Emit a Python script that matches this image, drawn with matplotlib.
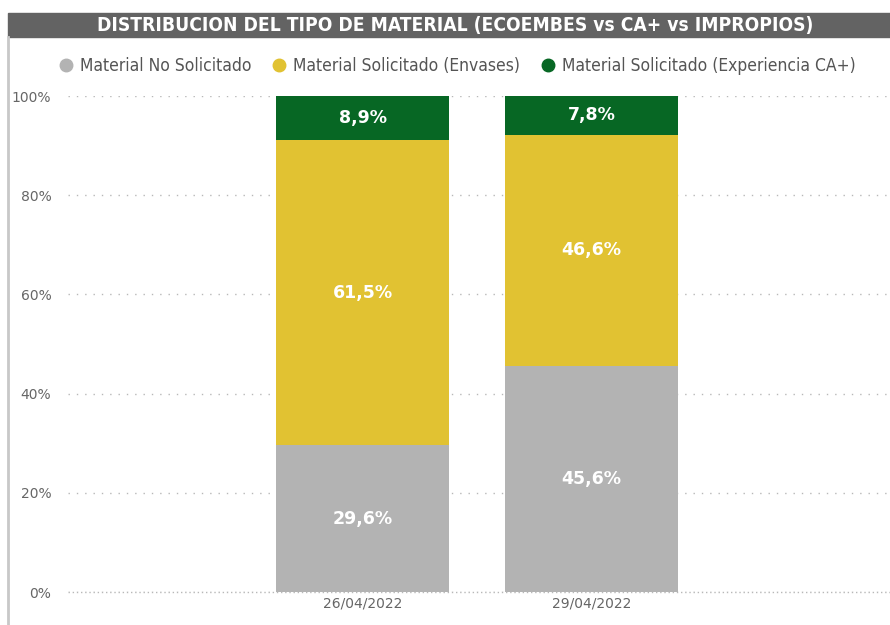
import numpy as np
import matplotlib.pyplot as plt
from matplotlib.patches import Rectangle
from matplotlib.lines import Line2D

# Datos
fechas = ['26/04/2022', '29/04/2022']
no_solicitado = [29.6, 45.6]
envases = [61.5, 46.6]
experiencia = [8.9, 7.8]

series = ['Material No Solicitado', 'Material Solicitado (Envases)',
          'Material Solicitado (Experiencia CA+)']
colores = ['#b3b3b3', '#e1c232', '#076724']

fig = plt.figure(figsize=(8.9, 6.25), dpi=100)

# Barra del titulo y borde izquierdo
fig.patches.append(Rectangle((8 / 890, 1 - 37 / 625), 1 - 8 / 890, 24 / 625,
                             transform=fig.transFigure, color='#636363', zorder=0))
fig.add_artist(Line2D([8 / 890, 8 / 890], [0, 1 - 37 / 625], transform=fig.transFigure,
                      color='#c8c8c8', lw=2))
fig.text(455 / 890, 1 - 25 / 625, 'DISTRIBUCION DEL TIPO DE MATERIAL (ECOEMBES vs CA+ vs IMPROPIOS)',
         ha='center', va='center', color='white', fontsize=13.8, fontweight='bold',
         fontstretch='condensed', family='DejaVu Sans')

ax = fig.add_axes([68 / 890, 1 - 592 / 625, 822 / 890, 496 / 625])

x = np.arange(len(fechas))
ancho = 0.755
abajo = np.zeros(len(fechas))
for vals, col in zip([no_solicitado, envases, experiencia], colores):
    vals = np.array(vals)
    ax.bar(x, vals, ancho, bottom=abajo, color=col, zorder=2)
    for xi, b, v in zip(x, abajo, vals):
        ax.text(xi, b + v / 2, f'{v:.1f}%'.replace('.', ','), ha='center', va='center',
                color='white', fontsize=12.5, fontweight='bold', zorder=3)
    abajo += vals

ax.set_xlim(-1.286, 2.303)
ax.set_ylim(0, 100)
ax.set_yticks([0, 20, 40, 60, 80, 100])
ax.set_yticklabels([f'{v}%' for v in [0, 20, 40, 60, 80, 100]])
ax.set_xticks(x)
ax.set_xticklabels(fechas)
ax.tick_params(axis='both', length=0, labelsize=10, colors='#666666')
ax.tick_params(axis='y', pad=12)
ax.grid(axis='y', linestyle=(0, (1, 5)), color='#b8b8b8', lw=1, zorder=1)
ax.axhline(0, linestyle=(0, (1, 2)), color='#b8b8b8', lw=1, zorder=1, clip_on=False)
for s in ax.spines.values():
    s.set_visible(False)

handles = [Line2D([], [], marker='o', ls='', color=c, markersize=9) for c in colores]
leg = fig.legend(handles, series, loc='center', bbox_to_anchor=(452 / 890, 1 - 66 / 625),
                 ncol=3, frameon=False, handletextpad=-0.2, columnspacing=0.6,
                 prop={'size': 12.5, 'stretch': 'condensed'})
for t in leg.get_texts():
    t.set_color('#555555')

fig.savefig('out.png', dpi=100)
